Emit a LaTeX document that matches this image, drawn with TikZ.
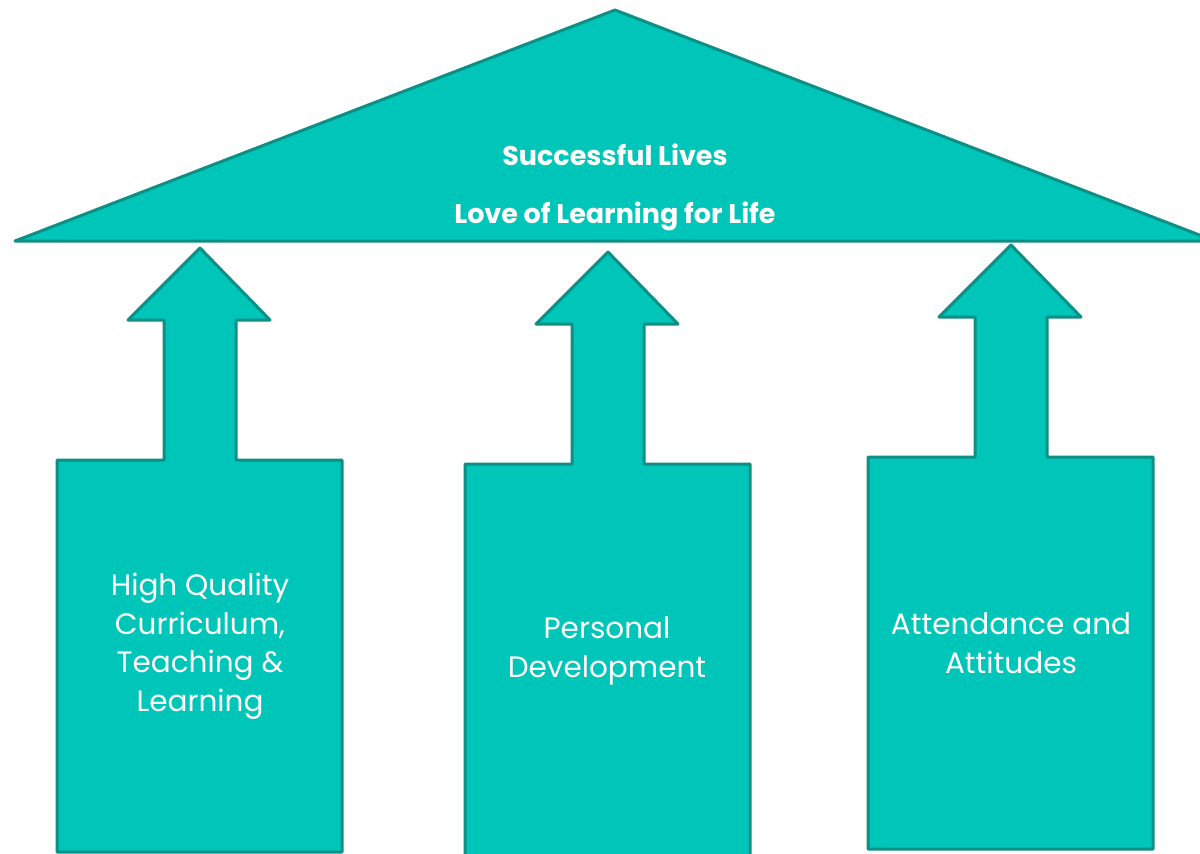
\documentclass[tikz,border=0pt]{standalone}
\usepackage{fontspec}
\setmainfont{Poppins}
\usetikzlibrary{positioning}

\definecolor{roofteal}{HTML}{00C5B9}
\definecolor{edgeteal}{HTML}{0E8F85}

\tikzset{
  block/.style={fill=roofteal,draw=edgeteal,line width=3pt,line join=round},
  headline/.style={text=white,font=\bfseries\fontsize{27}{31}\selectfont},
  pillartext/.style={text=white,align=center,font=\fontsize{29.5}{38.5}\selectfont}
}

% box with an arrow on top; #1,#2 = top left corner of the box
\newcommand{\pillarshape}[2]{%
  \draw[block] (#1,#2+392) -- (#1,#2) -- (#1+107,#2) -- (#1+107,#2-140)
    -- (#1+71,#2-140) -- (#1+143,#2-212) -- (#1+213,#2-140) -- (#1+179,#2-140)
    -- (#1+179,#2) -- (#1+285,#2) -- (#1+285,#2+392) -- cycle;
}

\begin{document}
\begin{tikzpicture}[x=1pt,y=-1pt]
\useasboundingbox (0,0) rectangle (1200,854);
\clip (0,0) rectangle (1200,854);
% the roof
\draw[block] (15,241) -- (615,10) -- (1215,241) -- cycle;
\node[headline] (lives) at (615,155) {Successful Lives};
\node[headline] (love) at (615,216) {Love of Learning for Life};
% the three pillars
\pillarshape{57}{460}
\pillarshape{465}{464}
\pillarshape{868}{457}
\node[pillartext] (curriculum) at (200,646) {High Quality\\Curriculum,\\Teaching \&\\Learning};
\node[pillartext] (personal) at (607,651) {Personal\\Development};
\node[pillartext] (attendance) at (1011,643) {Attendance and\\Attitudes};
\end{tikzpicture}
\end{document}
